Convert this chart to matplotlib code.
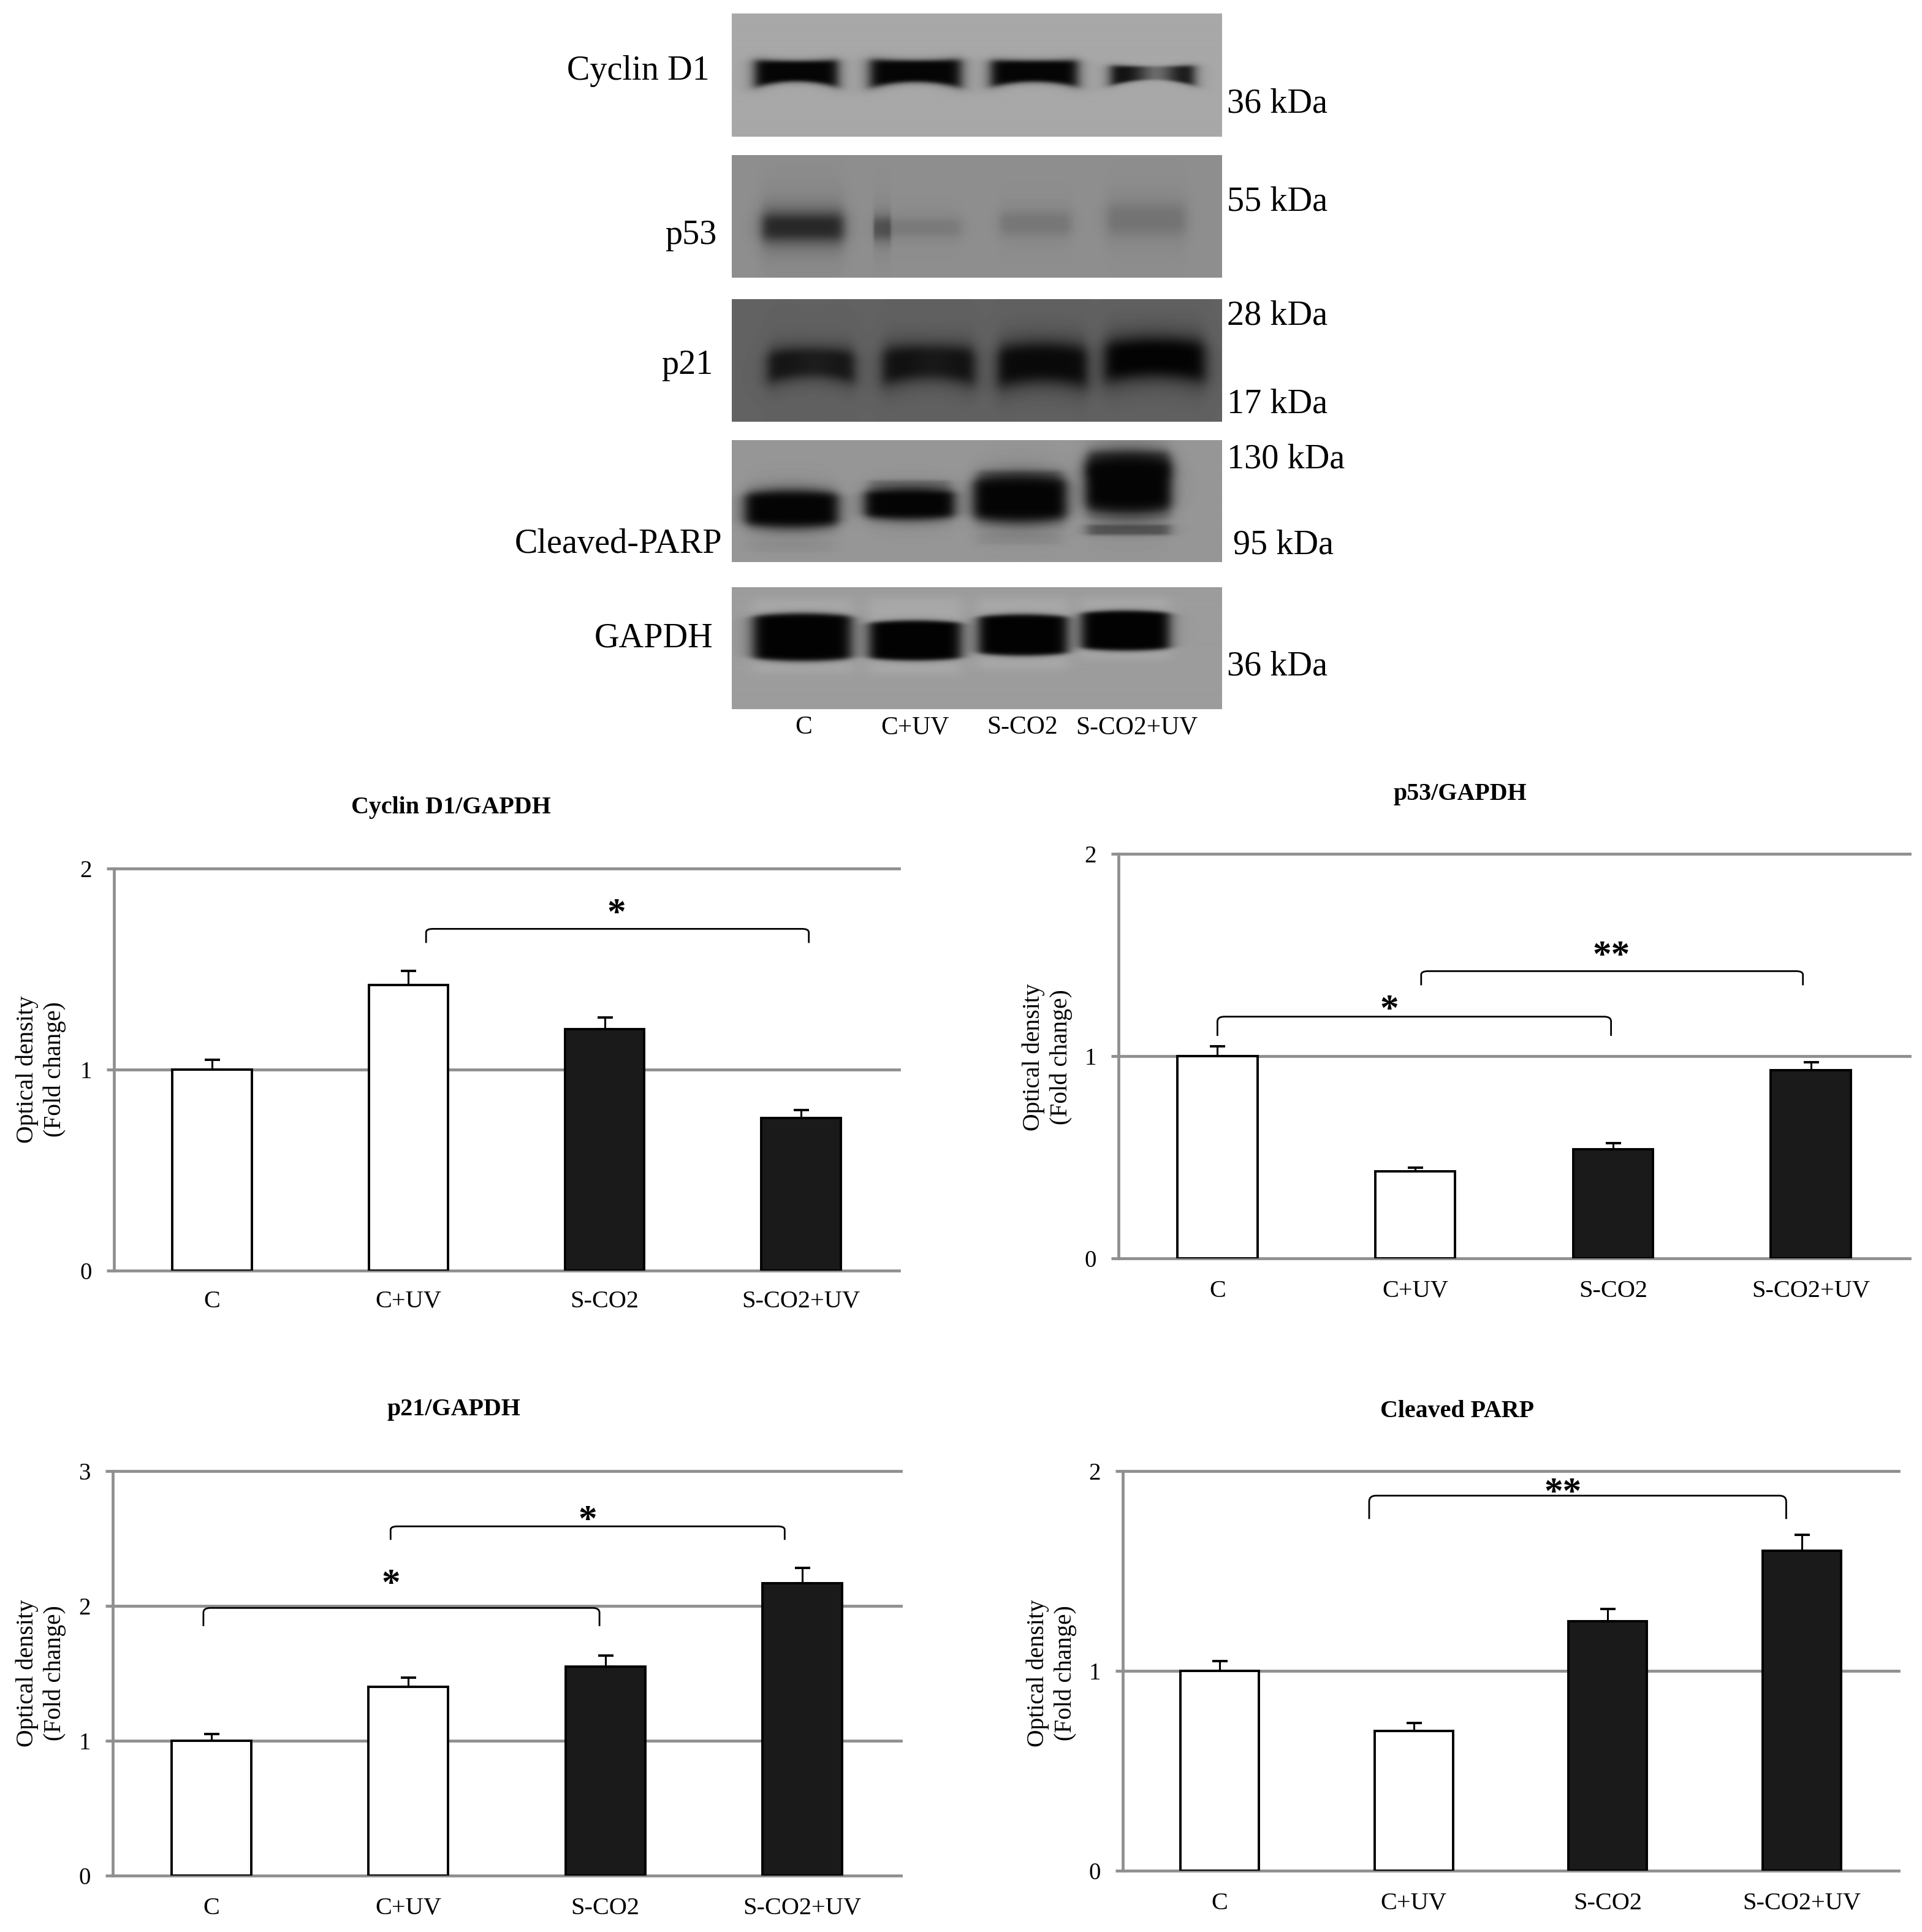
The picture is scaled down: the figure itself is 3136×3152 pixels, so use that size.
import numpy as np
import matplotlib
matplotlib.use("Agg")
import matplotlib.pyplot as plt
from matplotlib.path import Path
from matplotlib.patches import PathPatch

W, H = 3136, 3152
SERIF = "Liberation Serif"
plt.rcParams["font.family"] = SERIF

groups = ["C", "C+UV", "S-CO2", "S-CO2+UV"]
fills = ["white", "white", "#1a1a1a", "#1a1a1a"]

cyclin_vals = [1.0, 1.42, 1.20, 0.76]
cyclin_errs = [0.05, 0.07, 0.06, 0.04]
p53_vals = [1.0, 0.43, 0.54, 0.93]
p53_errs = [0.05, 0.02, 0.03, 0.04]
p21_vals = [1.0, 1.40, 1.55, 2.17]
p21_errs = [0.05, 0.07, 0.08, 0.11]
parp_vals = [1.0, 0.70, 1.25, 1.60]
parp_errs = [0.05, 0.04, 0.06, 0.08]

# Significance brackets: x0, x1, y_top, y_bottom, star x, star y, label
cyclin_sig = [(1.09, 3.04, 1.70, 1.63, 2.06, 1.77, "*")]
p53_sig = [(0.0, 1.99, 1.195, 1.10, 0.87, 1.225, "*"),
           (1.03, 2.96, 1.42, 1.35, 1.99, 1.49, "**")]
p21_sig = [(0.91, 2.91, 2.59, 2.49, 1.91, 2.625, "*"),
           (-0.04, 1.97, 1.985, 1.85, 0.91, 2.155, "*")]
parp_sig = [(0.77, 2.92, 1.877, 1.76, 1.77, 1.885, "**")]

# Blot bands: x centre, width, y centre, height, opacity, band gray, edge swell, dip
cyclin_bands = [(.132, .171, .475, .20, 1.0, 5, .3, 0), (.375, .188, .475, .21, 1.0, 5, .3, 0),
                (.617, .179, .475, .20, 1.0, 5, .25, 0), (.858, .172, .49, .14, .98, 10, .4, .6)]
p53_bands = [(.145, .168, .588, .25, .95, 35, 0, 0), (.382, .173, .593, .16, .3, 75, 0, 0),
             (.307, .035, .60, .2, .6, 50, 0, 0), (.62, .146, .56, .2, .35, 75, 0, 0),
             (.846, .162, .526, .27, .4, 75, 0, 0)]
p21_bands = [(.162, .179, .53, .27, .92, 14, .1, .1), (.402, .19, .526, .31, .95, 12, .1, .1),
             (.634, .184, .53, .35, .98, 8, .05, 0), (.863, .207, .488, .35, 1.0, 3, .05, 0)]
parp_bands = [(.809, .165, .20, .22, .65, 40, 0, 0), (.588, .17, .31, .12, .55, 60, 0, 0),
              (.363, .165, .37, .08, .45, 70, 0, 0),
              (.122, .192, .565, .29, 1.0, 4, -.2, 0), (.363, .185, .524, .24, 1.0, 4, -.2, 0),
              (.588, .192, .485, .36, 1.0, 4, -.2, 0), (.809, .177, .368, .47, 1.0, 4, -.2, 0),
              (.809, .17, .736, .085, .6, 45, 0, 0), (.809, .17, .62, .05, .2, 90, 0, 0),
              (.588, .17, .81, .09, .12, 70, 0, 0), (.122, .17, .87, .09, .08, 70, 0, 0)]
gapdh_bands = [(.144, .205, .40, .60, .6, 176, 0, 0), (.374, .19, .40, .62, .6, 176, 0, 0),
               (.594, .185, .38, .58, .6, 176, 0, 0), (.803, .182, .34, .50, .6, 176, 0, 0),
               (.144, .203, .41, .37, 1.0, 2, -.12, 0), (.374, .19, .437, .31, 1.0, 2, -.12, 0),
               (.594, .184, .392, .32, 1.0, 2, -.12, 0), (.803, .182, .356, .31, 1.0, 2, -.12, 0)]

blot_names = ["Cyclin D1", "p53", "p21", "Cleaved-PARP", "GAPDH"]
blot_bg = [168, 142, 98, 150, 156]
blot_sets = [cyclin_bands, p53_bands, p21_bands, parp_bands, gapdh_bands]
blot_edge = [8, 3, 4, 6, 16]
blot_sag = [.02, 0, .045, 0, 0]

fig = plt.figure(figsize=(W / 100, H / 100), dpi=100, facecolor="white")


def pax(l, t, r, b):
    return fig.add_axes([l / W, 1 - b / H, (r - l) / W, (b - t) / H])


def ptext(x, y, s, **kw):
    kw.setdefault("family", SERIF)
    kw.setdefault("ha", "center")
    kw.setdefault("va", "center")
    return fig.text(x / W, 1 - y / H, s, **kw)


def blot_image(bands, bg, edge, sag):
    ny, nx = 200, 800
    yy, xx = np.mgrid[0:ny, 0:nx]
    x, y = (xx + .5) / nx, (yy + .5) / ny
    img = np.full((ny, nx), float(bg))
    for xc, w, yc, h, op, gray, swell, dip in bands:
        u = (x - xc) / (w / 2)
        hh = (h / 2) * (1 + swell * (u ** 2 - .5))
        v = (y - yc - sag * (u ** 2 - .3)) / hh
        a = 1 / (1 + np.abs(u) ** 12) / (1 + np.abs(v) ** edge)
        a *= op * (1 - dip * np.exp(-((u - .1) / .45) ** 2))
        img = img * (1 - a) + gray * a
    return img


blot_boxes = [(1194, 22, 1993, 223), (1194, 253, 1993, 453), (1194, 488, 1993, 688),
              (1194, 718, 1993, 917), (1194, 958, 1993, 1157)]
for box, bands, bg, edge, sag in zip(blot_boxes, blot_sets, blot_bg, blot_edge, blot_sag):
    a = pax(*box)
    a.imshow(blot_image(bands, bg, edge, sag), cmap="gray", vmin=0, vmax=255, aspect="auto",
             interpolation="bilinear")
    a.axis("off")

for (x, y), s in zip([(1158, 116), (1169, 384), (1163, 596), (1178, 888), (1163, 1041)], blot_names):
    ptext(x, y, s, fontsize=40.5, ha="right")
for x, y, s in [(2002, 170, "36 kDa"), (2002, 330, "55 kDa"), (2002, 515, "28 kDa"), (2002, 659, "17 kDa"),
                (2002, 750, "130 kDa"), (2012, 890, "95 kDa"), (2002, 1087, "36 kDa")]:
    ptext(x, y, s, fontsize=40.5, ha="left")
for x, s in zip([1311, 1493, 1668, 1855], groups):
    ptext(x, 1187, s, fontsize=30)


def bracket(ax, x0, x1, top, bottom):
    dx, dy = .035, (top - bottom) * .25
    verts = [(x0, bottom), (x0, top - dy), (x0, top), (x0 + dx, top), (x1 - dx, top),
             (x1, top), (x1, top - dy), (x1, bottom)]
    codes = [Path.MOVETO, Path.LINETO, Path.CURVE3, Path.CURVE3, Path.LINETO,
             Path.CURVE3, Path.CURVE3, Path.LINETO]
    ax.add_patch(PathPatch(Path(verts, codes), fc="none", ec="black", lw=2.0, zorder=5, clip_on=False))


def chart(box, vals, errs, ymax, sig, title, title_xy, ylab_x, ylab_y, pad):
    ax = pax(*box)
    xs = np.arange(len(groups))
    ax.set_xlim(-.5, 3.5)
    ax.set_ylim(0, ymax)
    ax.set_axisbelow(True)
    ax.yaxis.grid(True, color="#8f8f8f", lw=3.4)
    for g in ax.get_ygridlines():
        g.set_clip_on(False)
    ax.bar(xs, vals, width=.405, color=fills, edgecolor="black", lw=2.8, zorder=3)
    ax.errorbar(xs, vals, yerr=[np.zeros(4), errs], fmt="none", ecolor="black",
                elinewidth=2.2, capsize=9, capthick=2.8, zorder=2)
    for sp in ["top", "right", "bottom"]:
        ax.spines[sp].set_visible(False)
    ax.spines["left"].set_color("#8f8f8f")
    ax.spines["left"].set_linewidth(3.4)
    ax.set_xticks(xs, groups, fontsize=29, family=SERIF)
    ax.tick_params(axis="x", length=0, pad=pad)
    ax.set_yticks(np.arange(ymax + 1))
    ax.set_yticklabels([str(i) for i in range(ymax + 1)], fontsize=28, family=SERIF)
    ax.tick_params(axis="y", length=9, width=3.4, color="#8f8f8f", pad=17)
    for x0, x1, top, bottom, sx, sy, star in sig:
        bracket(ax, x0, x1, top, bottom)
        ax.text(sx, sy, star, fontsize=44, ha="center", va="center", zorder=6, family=SERIF, fontweight="bold")
    ptext(*title_xy, title, fontsize=28.8, fontweight="bold")
    ptext(ylab_x, ylab_y, "Optical density\n(Fold change)", fontsize=28.5, rotation=90, linespacing=1.28)
    return ax


chart((186, 1417, 1467, 2073), cyclin_vals, cyclin_errs, 2, cyclin_sig, "Cyclin D1/GAPDH", (736, 1318), 67, 1745, 23)
chart((1825, 1393, 3116, 2053), p53_vals, p53_errs, 2, p53_sig, "p53/GAPDH", (2382, 1296), 1709, 1725, 25)
chart((184, 2400, 1470, 3060), p21_vals, p21_errs, 3, p21_sig, "p21/GAPDH", (740, 2300), 67, 2730, 25)
chart((1832, 2400, 3098, 3052), parp_vals, parp_errs, 2, parp_sig, "Cleaved PARP", (2378, 2303), 1716, 2730, 25)

fig.savefig("out.png", dpi=100, facecolor="white")
